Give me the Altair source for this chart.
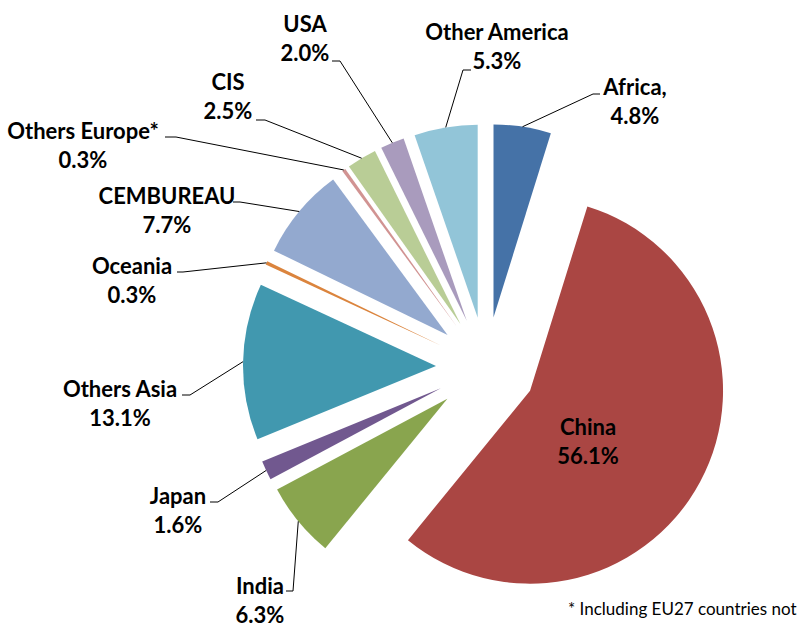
import altair as alt
import pandas as pd

# ---- data ----
regions = ["Africa,", "China", "India", "Japan", "Others Asia", "Oceania",
           "CEMBUREAU", "Others Europe*", "CIS", "USA", "Other America"]
shares = [4.8, 56.1, 6.3, 1.6, 13.1, 0.3, 7.7, 0.3, 2.5, 2.0, 5.3]
colors = ["#4572A7", "#AA4643", "#89A54E", "#71588F", "#4198AF", "#DB843D",
          "#93A9CF", "#D19392", "#B9CD96", "#A99BBD", "#92C5D8"]
footnote = "* Including EU27 countries not"

# ---- layout (pixels) ----
CX, CY = 486, 367      # pie centre
EXPLODE = 50           # explosion distance
R = 193                # radius
W, H = 800, 637

label_x = [635, 588, 260, 178, 120, 132, 167, 83, 228, 305, 497]
label_y = [88, 428, 587, 497, 390, 267, 197, 132, 83, 25, 33]
hook_x = [600, None, 286, 210, 182, 177, 233, 165, 256, 332, 471]
hook_y = [94, None, 591, 502, 395, 272, 202, 137, 120, 61, 70]
elbow_x = [593, None, 293, 218, 190, 183, 240, 176, 265, 340, 463]
elbow_y = [94, None, 591, 502, 395, 272, 202, 137, 120, 61, 70]

df = pd.DataFrame({
    "idx": list(range(len(regions))),
    "region": regions,
    "share": shares,
    "pct": [f"{s:.1f}%" for s in shares],
    "lx": label_x, "ly": label_y,
    "hx": hook_x, "hy": hook_y,
    "ex": elbow_x, "ey": elbow_y,
})

base = alt.Chart(df).transform_window(
    cum="sum(share)", sort=[alt.SortField("idx")], frame=[None, 0]
).transform_calculate(
    t1="datum.cum / 100 * 2 * PI",
    t0="(datum.cum - datum.share) / 100 * 2 * PI",
).transform_calculate(
    mid="(datum.t0 + datum.t1) / 2",
).transform_calculate(
    cx=f"{CX} + {EXPLODE} * sin(datum.mid)",
    cy=f"{CY} - {EXPLODE} * cos(datum.mid)",
).transform_calculate(
    ax=f"datum.cx + {R} * sin(datum.mid)",
    ay=f"datum.cy - {R} * cos(datum.mid)",
    ly2="datum.ly + 29",
)

arcs = base.mark_arc(radius=R).encode(
    theta=alt.Theta("t0:Q", scale=None, stack=None),
    theta2="t1:Q",
    x=alt.X("cx:Q", scale=None, axis=None),
    y=alt.Y("cy:Q", scale=None, axis=None),
    color=alt.Color("region:N", scale=alt.Scale(domain=regions, range=colors), legend=None),
)

leaders = base.transform_filter("isValid(datum.hx)")
seg1 = leaders.mark_rule(color="#000000", strokeWidth=1).encode(
    x=alt.X("ax:Q", scale=None, axis=None),
    y=alt.Y("ay:Q", scale=None, axis=None),
    x2="ex:Q", y2="ey:Q",
)
seg2 = leaders.mark_rule(color="#000000", strokeWidth=1).encode(
    x=alt.X("ex:Q", scale=None, axis=None),
    y=alt.Y("ey:Q", scale=None, axis=None),
    x2="hx:Q", y2="hy:Q",
)

txt_style = dict(font="Lato", fontWeight="bold", fontSize=22, color="#000000",
                 align="center", baseline="middle")
names = base.mark_text(**txt_style).encode(
    x=alt.X("lx:Q", scale=None, axis=None),
    y=alt.Y("ly:Q", scale=None, axis=None),
    text="region:N",
)
pcts = base.mark_text(**txt_style).encode(
    x=alt.X("lx:Q", scale=None, axis=None),
    y=alt.Y("ly2:Q", scale=None, axis=None),
    text="pct:N",
)

note = alt.Chart(pd.DataFrame({"t": [footnote]})).mark_text(
    font="Lato", fontSize=17, color="#000000", align="left", baseline="middle"
).encode(x=alt.value(568), y=alt.value(610), text="t:N")

chart = alt.layer(arcs, seg1, seg2, names, pcts, note).properties(
    width=W, height=H, padding=0, autosize=alt.AutoSizeParams(type="none")
).configure_view(stroke=None)

chart.save("out.html", embed_options={"renderer": "svg", "actions": False})
